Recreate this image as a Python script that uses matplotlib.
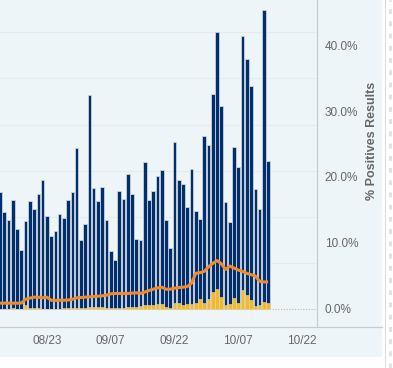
import matplotlib
matplotlib.use("Agg")
import matplotlib.pyplot as plt
import matplotlib.dates as mdates
import numpy as np
import pandas as pd
from matplotlib.lines import Line2D
from matplotlib.patches import Rectangle

plt.rcParams["font.family"] = ["Liberation Sans", "DejaVu Sans"]

# daily series, 2020-08-12 .. 2020-10-14
dates = pd.date_range("2020-08-12", periods=64, freq="D")

total_tests = [
    1272, 1049, 962, 1179, 864, 637, 951, 1168, 1081, 1244,
    1396, 1005, 788, 843, 1027, 984, 1179, 1266, 1743, 745,
    919, 2318, 1309, 1168, 1320, 962, 626, 528, 1277, 1190,
    1461, 1244, 756, 748, 1594, 1182, 1280, 1443, 1508, 965,
    662, 1811, 1399, 1356, 1106, 1518, 1063, 976, 1876, 1779,
    2332, 3004, 2202, 1161, 944, 1757, 1540, 2961, 2712, 2419,
    1302, 1085, 3243, 1605,
]

positives = [
    0, 0, 0, 11, 0, 0, 43, 16, 16, 16,
    0, 0, 0, 0, 0, 11, 11, 11, 11, 11,
    16, 22, 22, 22, 22, 16, 11, 11, 16, 16,
    22, 22, 22, 33, 43, 43, 43, 54, 54, 22,
    11, 65, 65, 43, 54, 54, 65, 108, 65, 108,
    184, 217, 130, 43, 54, 119, 65, 206, 152, 98,
    33, 43, 76, 65,
]

pct_positive = [
    0.88, 0.88, 0.88, 0.88, 0.88, 0.90, 1.48, 1.64, 1.79, 1.79,
    1.70, 1.79, 1.33, 1.29, 1.33, 1.33, 1.36, 1.46, 1.70, 1.74,
    1.79, 1.84, 1.89, 1.94, 1.99, 2.09, 2.30, 2.35, 2.35, 2.35,
    2.35, 2.40, 2.45, 2.35, 2.55, 2.80, 3.00, 3.20, 3.30, 3.00,
    3.00, 3.15, 3.25, 3.30, 3.40, 3.90, 5.40, 5.50, 5.70, 6.40,
    6.90, 7.35, 6.85, 6.00, 6.50, 6.20, 5.90, 5.70, 5.40, 5.20,
    5.00, 4.20, 4.10, 4.10,
]

tick_dates = pd.to_datetime(["2020-08-23", "2020-09-07", "2020-09-22",
                             "2020-10-07", "2020-10-22"])
pct_ticks = [0, 10, 20, 30, 40]

W, H = 393, 368
fig = plt.figure(figsize=(W / 100, H / 100), dpi=100)
fig.patch.set_facecolor("white")

# light panel behind the chart
fig.patches.append(Rectangle((0, 1 - 357 / H), 382 / W, 357 / H,
                             transform=fig.transFigure, facecolor="#eef5f9",
                             edgecolor="none", zorder=-5))

ax = fig.add_axes([0, 1 - 327 / H, 317 / W, 327 / H])
ax.set_zorder(2)
ax.patch.set_visible(False)
x = mdates.date2num(dates)

ax.bar(x, total_tests, width=0.86, color="#002f6f", edgecolor="#cfd2d6",
       linewidth=0.6, zorder=2)
ax.bar(x, positives, width=0.86, color="#f1b92b", edgecolor="#e8d9a8",
       linewidth=0.4, zorder=3)
ax.axhline(0, color="#b5b5b5", linestyle=(0, (1, 1.5)), linewidth=0.8, zorder=1)

ax.set_ylim(-195, 3351)
ax.set_yticks([500, 1000, 1500, 2000, 2500, 3000])
ax.grid(axis="y", color="#e7eaec", linewidth=0.8, zorder=0)
ax.set_axisbelow(True)

x0 = mdates.date2num(dates[0])
ax.set_xlim(x0 - 0.01, x0 + 74.49)
ax.set_xticks(mdates.date2num(tick_dates))
ax.xaxis.set_major_formatter(mdates.DateFormatter("%m/%d"))
ax.tick_params(axis="x", length=0, pad=6, labelsize=8.5, labelcolor="#666666")

for s in ["left", "top", "bottom", "right"]:
    ax.spines[s].set_visible(False)

ax2 = ax.twinx()
ax2.patch.set_visible(False)
ax2.plot(x, pct_positive, color="#f08a2c", linewidth=2.2, zorder=5,
         solid_capstyle="butt", solid_joinstyle="round")
ax2.set_ylim(-2.73, 46.82)
ax2.set_yticks(pct_ticks)
ax2.set_yticklabels([f"{v:.1f}%" for v in pct_ticks])
ax2.tick_params(axis="y", length=0, pad=5.5, labelsize=8.5, labelcolor="#666666")
for s in ["left", "top", "bottom"]:
    ax2.spines[s].set_visible(False)
ax2.spines["right"].set_color("#c9cccf")
ax2.spines["right"].set_linewidth(0.9)

# twinx turns the left ticks back on, so hide them afterwards
ax.tick_params(axis="y", left=False, right=False, labelleft=False, labelright=False)

fig.text(372 / W, 1 - 141 / H, "% Positives Results", rotation=90,
         ha="center", va="center", fontsize=9, fontweight="bold", color="#666666")

# bottom axis line across the panel
fig.lines.append(Line2D([0, 382 / W], [1 - 327 / H] * 2, transform=fig.transFigure,
                        color="#c9cccf", linewidth=0.9))
# scrollbar remnants on the far right
fig.lines.append(Line2D([385 / W] * 2, [0, 1], transform=fig.transFigure,
                        color="#dcdcdc", linewidth=0.8))
fig.lines.append(Line2D([389.5 / W] * 2, [0, 1], transform=fig.transFigure,
                        color="#e2e2e2", linewidth=2.2, linestyle=(0, (1.6, 2.4))))

fig.savefig("out.png", dpi=100)
